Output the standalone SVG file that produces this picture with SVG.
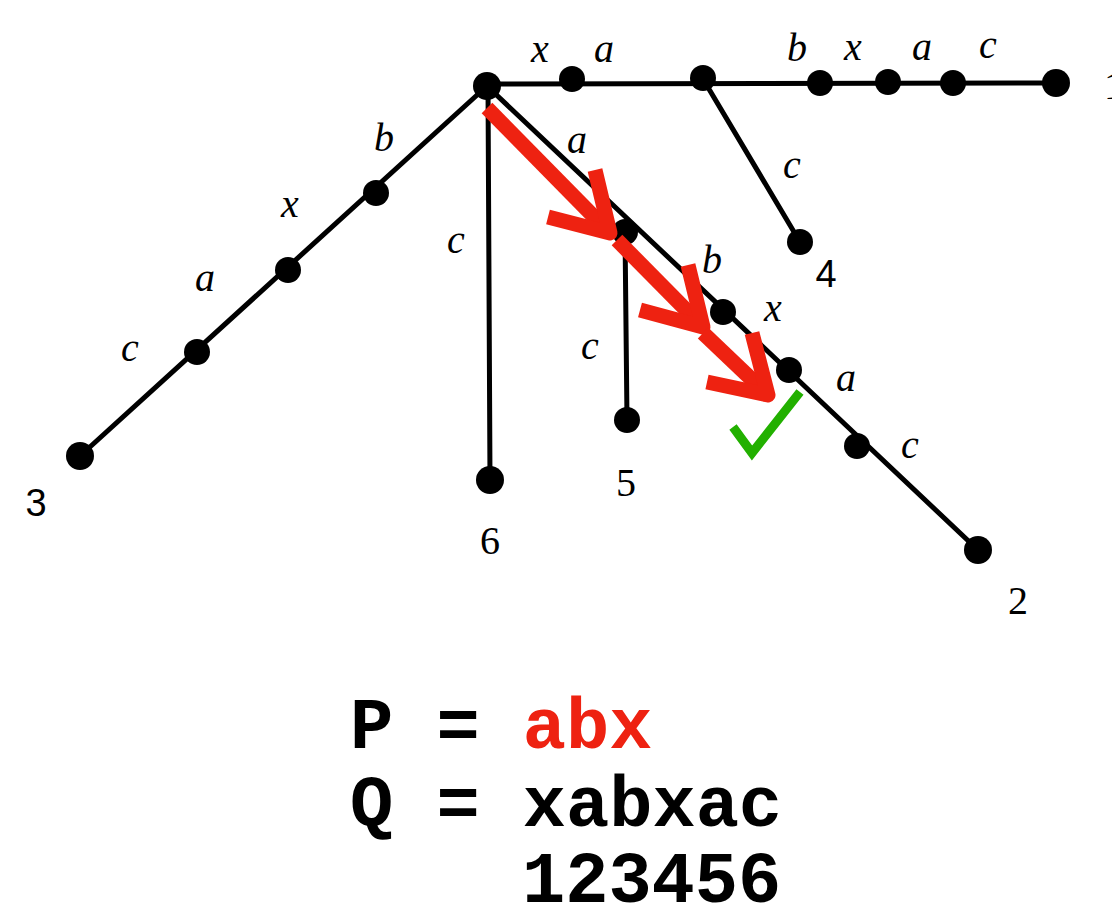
<svg xmlns="http://www.w3.org/2000/svg" width="1112" height="919" viewBox="0 0 1112 919">
<style>
.e{stroke:#000;stroke-width:5;fill:none;stroke-linecap:round}
.n{fill:#000}
.l{font-family:"Liberation Serif",serif;font-style:italic;font-size:40px;fill:#000;text-anchor:middle}
.num{font-family:"Liberation Serif",serif;font-size:40px;fill:#000;text-anchor:middle}
.nums{font-family:"Liberation Sans",sans-serif;font-size:38px;fill:#000;text-anchor:middle}
.ar{stroke:#EE2211;stroke-width:15;fill:none;stroke-linejoin:round;stroke-linecap:butt}
.ck{stroke:#22B000;stroke-width:9;fill:none;stroke-linejoin:miter}
.m{font-family:"Liberation Mono",monospace;font-weight:bold;font-size:72px;fill:#000}
</style>
<rect width="1112" height="919" fill="#fff"/>
<g id="connectors">
<line class="e" x1="487" y1="84" x2="1056" y2="83"/>
<line class="e" x1="703" y1="79" x2="800" y2="242"/>
<line class="e" x1="487" y1="86" x2="80" y2="456"/>
<line class="e" x1="488" y1="86" x2="490" y2="480"/>
<line class="e" x1="487" y1="86" x2="978" y2="550"/>
<line class="e" x1="625" y1="232" x2="627" y2="420"/>
</g>
<g id="root"><circle class="n" cx="487" cy="86" r="14"/></g>
<g id="top-nodes">
<circle class="n" cx="572" cy="79" r="13"/>
<circle class="n" cx="703" cy="78" r="13"/>
<circle class="n" cx="820" cy="83" r="13"/>
<circle class="n" cx="888" cy="82" r="13"/>
<circle class="n" cx="953" cy="83" r="13"/>
<circle class="n" cx="1056" cy="83" r="14"/>
<text class="l" x="540" y="62">x</text>
<text class="l" x="604" y="62">a</text>
<text class="l" x="797" y="61">b</text>
<text class="l" x="853" y="60">x</text>
<text class="l" x="922" y="60">a</text>
<text class="l" x="988" y="58">c</text>
<text class="num" x="1104" y="99" style="text-anchor:start">1</text>
</g>
<g id="leaf4">
<circle class="n" cx="800" cy="242" r="13"/>
<text class="l" x="792" y="178">c</text>
<text class="nums" x="826" y="287">4</text>
</g>
<g id="left-branch">
<circle class="n" cx="376" cy="193" r="13"/>
<circle class="n" cx="288" cy="270" r="13"/>
<circle class="n" cx="197" cy="352" r="13"/>
<circle class="n" cx="80" cy="456" r="14"/>
<text class="l" x="384" y="151">b</text>
<text class="l" x="290" y="217">x</text>
<text class="l" x="205" y="291">a</text>
<text class="l" x="130" y="361">c</text>
<text class="nums" x="36" y="516">3</text>
</g>
<g id="leaf6">
<circle class="n" cx="490" cy="480" r="14"/>
<text class="l" x="456" y="253">c</text>
<text class="num" x="490" y="554">6</text>
</g>
<g id="diag-branch">
<circle class="n" cx="625" cy="232" r="13"/>
<circle class="n" cx="723" cy="312" r="13"/>
<circle class="n" cx="789" cy="370" r="13"/>
<circle class="n" cx="857" cy="446" r="13"/>
<circle class="n" cx="978" cy="550" r="14"/>
<text class="l" x="577" y="153">a</text>
<text class="l" x="712" y="273">b</text>
<text class="l" x="773" y="321">x</text>
<text class="l" x="846" y="391">a</text>
<text class="l" x="910" y="458">c</text>
<text class="num" x="1018" y="614">2</text>
</g>
<g id="leaf5">
<circle class="n" cx="627" cy="420" r="13"/>
<text class="l" x="590" y="359">c</text>
<text class="num" x="626" y="496">5</text>
</g>
<g id="arrows">
<line class="ar" x1="487" y1="108" x2="608" y2="231"/>
<polyline class="ar" points="595,170 610,233 548,217"/>
<line class="ar" x1="617" y1="240" x2="700" y2="324"/>
<polyline class="ar" points="688,265 703,327 640,310"/>
<line class="ar" x1="703" y1="333" x2="765" y2="392"/>
<polyline class="ar" points="752,333 768,395 707,382"/>
</g>
<g id="check">
<polyline class="ck" points="733,427 752,453 800,392"/>
</g>
<g id="strings">
<text class="m" x="350" y="748">P = <tspan fill="#EE2211">abx</tspan></text>
<text class="m" x="350" y="826">Q = xabxac</text>
<text class="m" x="522" y="902">123456</text>
</g>
</svg>
